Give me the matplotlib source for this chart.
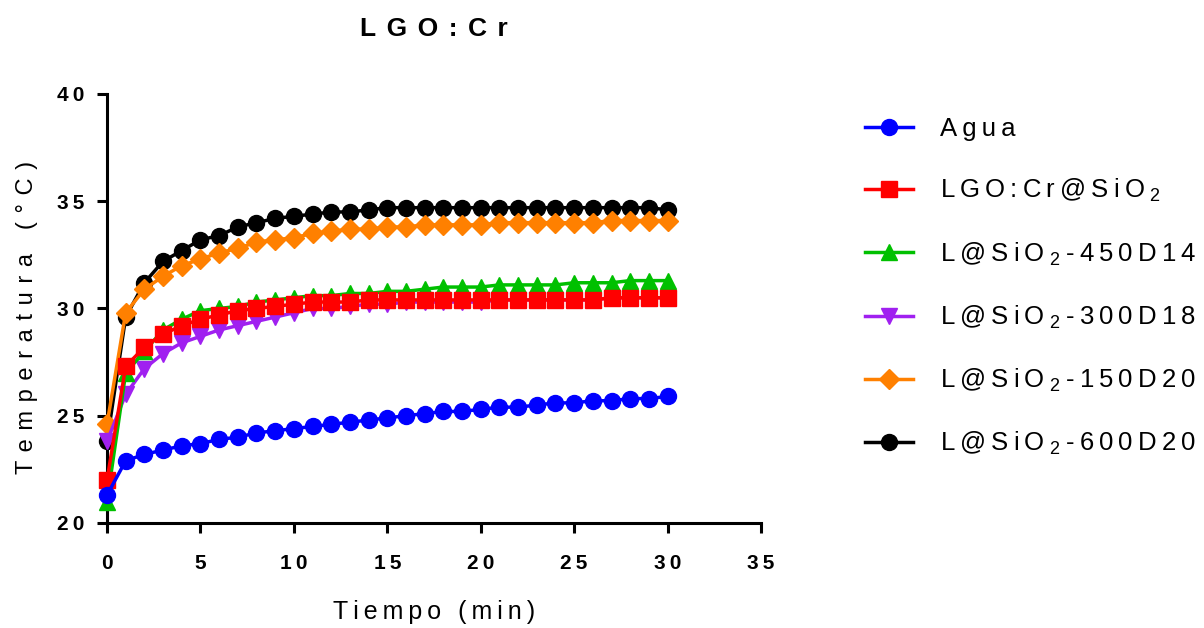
import numpy as np
import matplotlib
matplotlib.use("Agg")
import matplotlib.pyplot as plt

plt.rcParams['font.family'] = ['Liberation Sans', 'DejaVu Sans']
plt.rcParams['mathtext.fontset'] = 'custom'
plt.rcParams['mathtext.rm'] = 'Liberation Sans'
plt.rcParams['mathtext.it'] = 'Liberation Sans'

# data (minutes, degC)
tiempo = list(range(0, 31))
agua = [21.3, 22.9, 23.2, 23.4, 23.6, 23.7, 23.9, 24.0, 24.2, 24.3, 24.4,
        24.5, 24.6, 24.7, 24.8, 24.9, 25.0, 25.1, 25.2, 25.2, 25.3,
        25.4, 25.4, 25.5, 25.6, 25.6, 25.7, 25.7, 25.8, 25.8, 25.9]
lgo_sio2 = [22.0, 27.3, 28.2, 28.8, 29.2, 29.5, 29.7, 29.9, 30.0, 30.1, 30.2,
            30.3, 30.3, 30.3, 30.4, 30.4, 30.4, 30.4, 30.4, 30.4, 30.4,
            30.4, 30.4, 30.4, 30.4, 30.4, 30.4, 30.5, 30.5, 30.5, 30.5]
l450d14 = [21.0, 27.0, 28.0, 29.0, 29.5, 29.9, 30.0, 30.1, 30.3, 30.4, 30.5,
           30.6, 30.6, 30.7, 30.7, 30.8, 30.8, 30.9, 31.0, 31.0, 31.0,
           31.1, 31.1, 31.1, 31.1, 31.2, 31.2, 31.2, 31.3, 31.3, 31.3]
l300d18 = [23.8, 26.0, 27.2, 27.9, 28.4, 28.7, 29.0, 29.2, 29.4, 29.6, 29.8,
           30.0, 30.0, 30.1, 30.2, 30.2, 30.3, 30.3, 30.3, 30.3, 30.3,
           30.4, 30.4, 30.4, 30.4, 30.4, 30.4, 30.5, 30.5, 30.5, 30.5]
l150d20 = [24.6, 29.8, 30.9, 31.5, 32.0, 32.3, 32.6, 32.8, 33.1, 33.2, 33.3,
           33.5, 33.6, 33.7, 33.7, 33.8, 33.8, 33.9, 33.9, 33.9, 33.9,
           34.0, 34.0, 34.0, 34.0, 34.0, 34.0, 34.1, 34.1, 34.1, 34.1]
l600d20 = [23.8, 29.6, 31.2, 32.2, 32.7, 33.2, 33.4, 33.8, 34.0, 34.2, 34.3,
           34.4, 34.5, 34.5, 34.6, 34.7, 34.7, 34.7, 34.7, 34.7, 34.7,
           34.7, 34.7, 34.7, 34.7, 34.7, 34.7, 34.7, 34.7, 34.7, 34.6]

THIN = '\u2009'


def sp(s, gap=THIN):
    # GraphPad-like letter spacing
    return gap.join(s)


def sio2_label(suffix):
    return sp('L@SiO') + THIN + '$_2$' + THIN + sp(suffix)


series = [
    (agua, sp('Agua'), '#0000ff', 'o'),
    (lgo_sio2, sp('LGO:Cr@SiO') + THIN + '$_2$', '#ff0000', 's'),
    (l450d14, sio2_label('-450D14'), '#00c000', '^'),
    (l300d18, sio2_label('-300D18'), '#a020f0', 'v'),
    (l150d20, sio2_label('-150D20'), '#ff8000', 'D'),
    (l600d20, sio2_label('-600D20'), '#000000', 'o'),
]

fig = plt.figure(figsize=(12.04, 6.28), dpi=100)
ax = fig.add_axes([107 / 1204, 1 - 523 / 628, (761 - 107) / 1204, (523 - 94) / 628])

for i, (ys, lab, col, mk) in enumerate(series):
    ms = 10 if mk == 'D' else 11.5
    ax.plot(tiempo, ys, color=col, marker=mk, markersize=ms, linewidth=2.5,
            label=lab, clip_on=False, zorder=10 - i)

ax.set_xlim(0, 35)
ax.set_ylim(20, 40)
ax.set_xticks(range(0, 36, 5))
ax.set_yticks(range(20, 41, 5))
ax.set_xticklabels([sp(str(v)) for v in range(0, 36, 5)], fontweight='bold', fontsize=15)
ax.set_yticklabels([sp(str(v)) for v in range(20, 41, 5)], fontweight='bold', fontsize=15)
ax.spines['top'].set_visible(False)
ax.spines['right'].set_visible(False)
for s in ['left', 'bottom']:
    ax.spines[s].set_linewidth(2.2)
ax.tick_params(width=2.2, length=7)
ax.tick_params(axis='x', pad=15)
ax.tick_params(axis='y', pad=9)

ax.set_xlabel(sp('Tiempo (min)'), fontsize=18, labelpad=20)
ax.set_ylabel(sp('Temperatura (°C)', ' \u200a'), fontsize=17)
ax.yaxis.set_label_coords(-0.105, 0.48)
fig.text(434 / 1204, 1 - 29 / 628, sp('LGO:Cr', THIN + THIN), ha='center', va='center',
         fontsize=19, fontweight='bold')

fig.legend(loc='upper left', bbox_to_anchor=(855 / 1204, 1 - 107 / 628),
           frameon=False, fontsize=18.5, handlelength=1.85, labelspacing=1.4,
           handletextpad=1.05, borderaxespad=0)

fig.savefig('out.png', dpi=100)
